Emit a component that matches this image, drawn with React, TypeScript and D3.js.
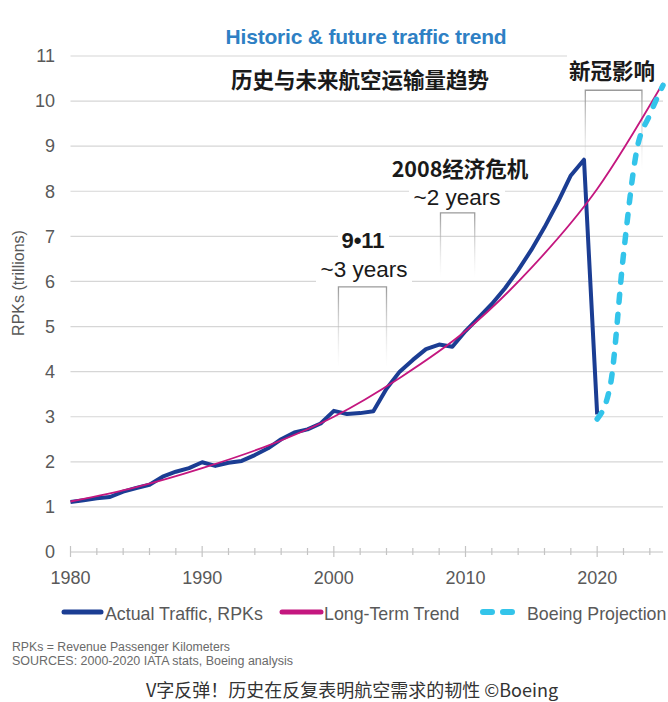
import React from 'react';
import * as d3 from 'd3';

const W = 668;
const H = 702;

// RPKs, trillions
const actualYears = [
  1980, 1981, 1982, 1983, 1984, 1985, 1986, 1987, 1988, 1989,
  1990, 1991, 1992, 1993, 1994, 1995, 1996, 1997, 1998, 1999,
  2000, 2001, 2002, 2003, 2004, 2005, 2006, 2007, 2008, 2009,
  2010, 2011, 2012, 2013, 2014, 2015, 2016, 2017, 2018, 2019, 2020,
];
const actualRpk = [
  1.11, 1.15, 1.19, 1.22, 1.34, 1.42, 1.49, 1.67, 1.78, 1.86,
  1.99, 1.91, 1.98, 2.02, 2.15, 2.3, 2.5, 2.65, 2.72, 2.85,
  3.13, 3.06, 3.08, 3.12, 3.62, 4.0, 4.26, 4.5, 4.6, 4.55,
  4.9, 5.2, 5.5, 5.85, 6.25, 6.7, 7.2, 7.75, 8.35, 8.7, 3.05,
];

const trendYears = [1980, 1985, 1990, 1995, 2000, 2005, 2010, 2015, 2020, 2025];
const trendRpk = [1.12, 1.44, 1.86, 2.36, 3.0, 3.86, 4.9, 6.3, 8.05, 10.4];

const projYears = [2020, 2021, 2022, 2023, 2024, 2025];
const projRpk = [2.95, 3.7, 6.6, 8.9, 9.7, 10.35];

const yTicks = [0, 1, 2, 3, 4, 5, 6, 7, 8, 9, 10, 11];
const xLabels = [1980, 1990, 2000, 2010, 2020];

const BLUE = '#1b3d93';
const MAGENTA = '#c4177f';
const CYAN = '#33c4ea';
const GRAY = '#595959';
const LATIN = '"Liberation Sans", Arial, sans-serif';
const CJK = '"Noto Sans CJK SC", "Noto Sans", sans-serif';

// annotation brackets: [startYear, endYear, topValue, depth px]
const brackets = [
  { id: 'b911', x0: 2000.35, x1: 2004.0, top: 5.88, depth: 80 },
  { id: 'b2008', x0: 2008.1, x1: 2010.7, top: 7.52, depth: 64 },
  { id: 'bcovid', x0: 2019.1, x1: 2023.4, top: 10.24, depth: 80 },
];

const x = d3.scaleLinear().domain([1980, 2025]).range([70.5, 663]);
const y = d3.scaleLinear().domain([0, 11]).range([552, 56]);

const App: React.FC = () => {
  const actualLine = d3.line<number>()
    .x((_, i) => x(actualYears[i]))
    .y(d => y(d))
    .curve(d3.curveLinear);

  const trendLine = d3.line<number>()
    .x((_, i) => x(trendYears[i]))
    .y(d => y(d))
    .curve(d3.curveMonotoneX);

  const projLine = d3.line<number>()
    .x((_, i) => x(projYears[i]))
    .y(d => y(d))
    .curve(d3.curveMonotoneX);

  const minorTicks = d3.range(1980, 2025, 2);

  return (
    <svg
      width={W}
      height={H}
      viewBox={`0 0 ${W} ${H}`}
      style={{ position: 'absolute', left: 0, top: 0, background: '#fff' }}
    >
      <defs>
        <linearGradient id="fade" x1="0" y1="0" x2="0" y2="1">
          <stop offset="0%" stopColor="#9a9a9a" stopOpacity="1" />
          <stop offset="100%" stopColor="#d8d8d8" stopOpacity="0" />
        </linearGradient>
      </defs>
      <rect x={0} y={0} width={W} height={H} fill="#fff" />

      {/* grid */}
      <g>
        {yTicks.filter(t => t > 0).map(t => (
          <line key={t} x1={x(1980)} x2={x(2025)} y1={y(t)} y2={y(t)} stroke="#d6d6d6" strokeWidth={1.2} />
        ))}
        <line x1={x(1980)} x2={x(2025)} y1={y(0)} y2={y(0)} stroke="#c4c4c4" strokeWidth={1.2} />
        {minorTicks.map(t => (
          <line
            key={t}
            x1={x(t)} x2={x(t)}
            y1={y(0) - (t % 10 === 0 ? 6 : 4)}
            y2={y(0) + (t % 10 === 0 ? 5 : 3)}
            stroke="#c4c4c4"
            strokeWidth={1.2}
          />
        ))}
      </g>

      {/* y tick labels */}
      <g fontFamily={LATIN} fontSize={18} fill={GRAY}>
        {yTicks.map(t => (
          <text key={t} x={55} y={y(t)} dy="0.35em" textAnchor="end">{t}</text>
        ))}
        {xLabels.map(t => (
          <text key={t} x={x(t)} y={584} textAnchor="middle">{t}</text>
        ))}
        <text
          transform={`translate(24, 283) rotate(-90)`}
          textAnchor="middle"
          fontSize={16}
        >RPKs (trillions)</text>
      </g>

      {/* text backgrounds that hide gridlines */}
      <rect x={567} y={50} width={101} height={34} fill="#fff" />
      <rect x={338} y={231} width={51} height={20} fill="#fff" />
      <rect x={316} y={262} width={96} height={22} fill="#fff" />
      <rect x={409} y={185} width={96} height={22} fill="#fff" />

      {/* brackets */}
      <g fill="none" stroke="url(#fade)" strokeWidth={1.3}>
        {brackets.map(b => {
          const x0 = x(b.x0);
          const x1 = x(b.x1);
          const yt = y(b.top);
          return <path key={b.id} d={`M${x0},${yt + b.depth} L${x0},${yt} L${x1},${yt} L${x1},${yt + b.depth}`} />;
        })}
      </g>

      {/* titles */}
      <text x={366} y={44} textAnchor="middle" fontFamily={LATIN} fontWeight="bold" fontSize={21} fill="#2e80c4" letterSpacing={-0.2}>
        Historic &amp; future traffic trend
      </text>
      <text x={360} y={88} textAnchor="middle" fontFamily={CJK} fontWeight="bold" fontSize={21.5} fill="#1a1a1a">
        历史与未来航空运输量趋势
      </text>

      {/* annotations */}
      <g fill="#1a1a1a">
        <text x={612} y={79} textAnchor="middle" fontFamily={CJK} fontWeight="bold" fontSize={21.5}>新冠影响</text>
        <text x={460} y={177} textAnchor="middle" fontFamily={CJK} fontWeight="bold" fontSize={21.5}>2008经济危机</text>
        <text x={457} y={205} textAnchor="middle" fontFamily={LATIN} fontSize={22.5}>~2 years</text>
        <text x={363} y={248} textAnchor="middle" fontFamily={LATIN} fontWeight="bold" fontSize={22}>9•11</text>
        <text x={364} y={277} textAnchor="middle" fontFamily={LATIN} fontSize={22.5}>~3 years</text>
      </g>

      {/* series */}
      <path d={actualLine(actualRpk) || ''} fill="none" stroke={BLUE} strokeWidth={4} strokeLinejoin="round" />
      <path d={trendLine(trendRpk) || ''} fill="none" stroke={MAGENTA} strokeWidth={1.8} />
      <path
        d={projLine(projRpk) || ''}
        fill="none"
        stroke={CYAN}
        strokeWidth={5.5}
        strokeDasharray="8 12"
        strokeLinecap="round"
      />

      {/* legend */}
      <g fontFamily={LATIN} fontSize={17.8} fill={GRAY}>
        <line x1={64} x2={101} y1={612} y2={612} stroke={BLUE} strokeWidth={5} strokeLinecap="round" />
        <text x={105} y={620}>Actual Traffic, RPKs</text>
        <line x1={282} x2={321} y1={612} y2={612} stroke={MAGENTA} strokeWidth={5} strokeLinecap="round" />
        <text x={324} y={620}>Long-Term Trend</text>
        <line x1={483} x2={513} y1={612} y2={612} stroke={CYAN} strokeWidth={6} strokeLinecap="round" strokeDasharray="9 11" />
        <text x={527} y={620}>Boeing Projection</text>
      </g>

      {/* footnotes */}
      <g fontFamily={LATIN} fontSize={12.5} fill="#6a6a6a">
        <text x={12} y={651} textLength={218} lengthAdjust="spacingAndGlyphs">RPKs = Revenue Passenger Kilometers</text>
        <text x={12} y={665} textLength={281} lengthAdjust="spacingAndGlyphs">SOURCES: 2000-2020 IATA stats, Boeing analysis</text>
      </g>

      <text x={352} y={697} textAnchor="middle" fontFamily={CJK} fontSize={18} fill="#333">
        V字反弹！历史在反复表明航空需求的韧性 ©Boeing
      </text>
    </svg>
  );
};

export default App;
